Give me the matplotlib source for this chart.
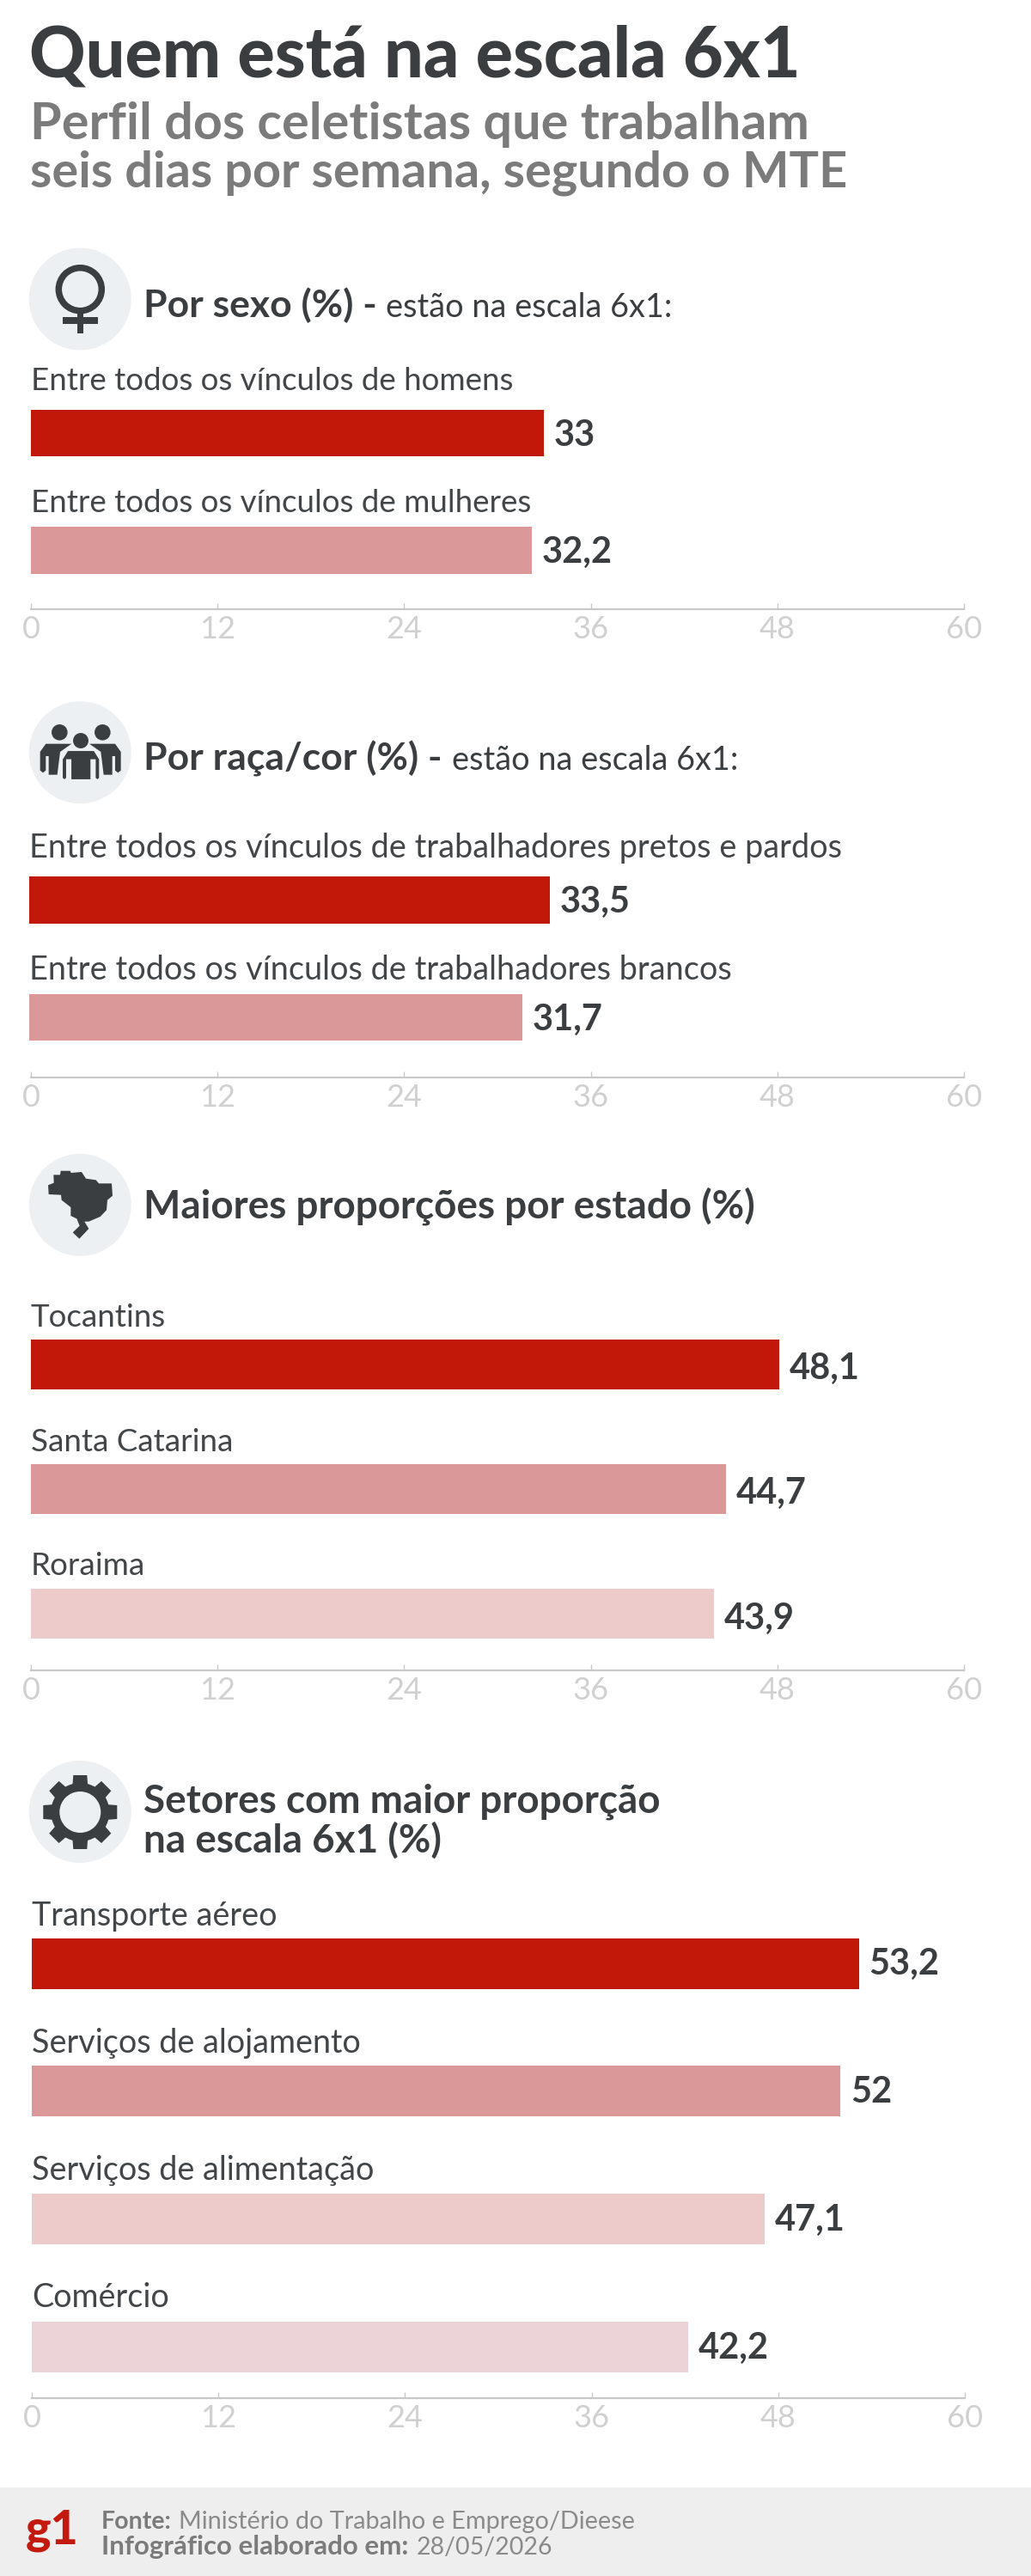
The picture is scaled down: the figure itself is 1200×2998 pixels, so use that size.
import matplotlib
matplotlib.use('Agg')
import matplotlib.pyplot as plt
import numpy as np
from matplotlib.patches import Circle, Polygon, Rectangle, Wedge

W, H = 1200, 2998
DARK = '#3b3e40'
GREY = '#7b7b7b'
TICK = '#c9c9c9'
ICON_BG = '#ecf0f3'
REDS = ['#c2180a', '#da9898', '#eecbcb', '#ecd3d8']
AXIS_TICKS = [0, 12, 24, 36, 48, 60]

sexo_labels = ['Entre todos os vínculos de homens', 'Entre todos os vínculos de mulheres']
sexo_values = [33, 32.2]
raca_labels = ['Entre todos os vínculos de trabalhadores pretos e pardos',
               'Entre todos os vínculos de trabalhadores brancos']
raca_values = [33.5, 31.7]
estado_labels = ['Tocantins', 'Santa Catarina', 'Roraima']
estado_values = [48.1, 44.7, 43.9]
setor_labels = ['Transporte aéreo', 'Serviços de alojamento', 'Serviços de alimentação', 'Comércio']
setor_values = [53.2, 52, 47.1, 42.2]

plt.rcParams['font.family'] = ['Lato', 'DejaVu Sans']

fig = plt.figure(figsize=(W / 100, H / 100), dpi=100, facecolor='white')

# pixel-addressed layer for headings, icons and footer
page = fig.add_axes([0, 0, 1, 1], zorder=5)
page.set_xlim(0, W)
page.set_ylim(H, 0)
page.axis('off')
page.patch.set_alpha(0)


def put(x, y, s, size, weight='normal', color=DARK):
    return page.text(x, y, s, fontsize=size, fontweight=weight, color=color, va='baseline', ha='left')


def px_axes(x0, x1, top, bottom):
    return fig.add_axes([x0 / W, 1 - bottom / H, (x1 - x0) / W, (bottom - top) / H])


def section(labels, values, bar_x, axis_x, first, step, height, axis_y, label_x, label_y, label_step,
            label_size, value_dy):
    scale = 18.1
    ax = px_axes(bar_x, bar_x + 60 * scale, first - step / 2, axis_y)
    ax.set_xlim(0, 60)
    ax.set_ylim((axis_y - first) / step, -0.5)
    ax.axis('off')
    pos = np.arange(len(values))
    ax.barh(pos, values, height=height / step, color=REDS[:len(values)])
    for i, v in zip(pos, values):
        ax.annotate(f'{v:g}'.replace('.', ','), (v, i), xytext=(8.5, value_dy), textcoords='offset points',
                    fontsize=30, fontweight='bold', color=DARK, va='center', ha='left')
        put(label_x, label_y + i * label_step, labels[i], label_size, color='#434648')

    axis = px_axes(axis_x, axis_x + 60 * scale, axis_y - 7, axis_y)
    axis.set_xlim(0, 60)
    axis.set_yticks([])
    axis.patch.set_alpha(0)
    for side in ('top', 'left', 'right'):
        axis.spines[side].set_visible(False)
    axis.spines['bottom'].set_color(TICK)
    axis.spines['bottom'].set_linewidth(1.6)
    axis.set_xticks(AXIS_TICKS)
    axis.tick_params(axis='x', direction='in', length=5, width=1, color=TICK,
                     labelcolor='#d0d0d0', labelsize=26, pad=5)


def badge(cy):
    page.add_patch(Circle((93.3, cy), 59.5, color=ICON_BG, lw=0))


def from_crop(pts, ox, oy):
    return [(ox + px / 3, oy + py / 3) for px, py in pts]


put(34, 89, 'Quem está na escala 6x1', 58.2, weight='black')
put(35, 162, 'Perfil dos celetistas que trabalham', 42.7, weight='bold', color=GREY)
put(35, 217, 'seis dias por semana, segundo o MTE', 41.5, weight='bold', color=GREY)

# headings
put(167, 369, 'Por sexo (%) -', 32, weight='bold')
put(449, 369, 'estão na escala 6x1:', 27.3)
put(167, 896, 'Por raça/cor (%) -', 32, weight='bold')
put(526, 896, 'estão na escala 6x1:', 27.3)
put(167, 1417, 'Maiores proporções por estado (%)', 33, weight='bold')
put(167, 2110, 'Setores com maior proporção', 33, weight='bold')
put(167, 2156, 'na escala 6x1 (%)', 33, weight='bold')

section(sexo_labels, sexo_values, 36, 36, 504, 136.5, 54.5, 709, 36, 454, 142, 26.5, -2)
section(raca_labels, raca_values, 34, 36, 1047.5, 136.5, 54.5, 1254, 34, 998, 142, 27.3, -2)
section(estado_labels, estado_values, 36, 36, 1587.5, 145.25, 58, 1944, 36, 1544, 144.5, 26.5, -4)
section(setor_labels, setor_values, 37, 37, 2285, 148.7, 59, 2791, 37, 2240.5, 148.3, 27.2, -1)

# female symbol
badge(348)
page.add_patch(Circle((93.3, 336.7), 25, fill=False, ec=DARK, lw=5.4))
page.add_patch(Rectangle((73, 369), 41, 8, color=DARK, lw=0))
page.add_patch(Rectangle((90, 363), 7.3, 25, color=DARK, lw=0))

# group of people
badge(875.7)
side_body = [(80, 225), (100, 197), (190, 197), (150, 225), (140, 305), (110, 305), (110, 240), (100, 240),
             (100, 290), (90, 298), (80, 290)]
page.add_patch(Polygon(from_crop(side_body, 20, 800), color=DARK, lw=0))
page.add_patch(Polygon(from_crop([(442 - a, b) for a, b in side_body], 20, 800), color=DARK, lw=0))
for hx, hy in [(148, 157), (298, 157)]:
    page.add_patch(Circle((20 + hx / 3, 800 + hy / 3), 9.3, color=DARK, lw=0))
mid_body = [(155, 250), (175, 218), (270, 218), (290, 250), (290, 318), (280, 326), (270, 318), (270, 255),
            (260, 255), (260, 325), (185, 325), (185, 255), (175, 255), (175, 318), (165, 326), (155, 318)]
page.add_patch(Polygon(from_crop(mid_body, 20, 800), fc=DARK, ec=ICON_BG, lw=2))
page.add_patch(Circle((20 + 222 / 3, 800 + 186 / 3), 10, fc=DARK, ec=ICON_BG, lw=1.5))

# map of Brazil
badge(1402.3)
brasil = [(127, 112), (150, 112), (152, 98), (185, 98), (188, 105), (225, 102), (240, 125), (275, 130), (285, 142),
          (330, 142), (333, 185), (315, 200), (312, 235), (290, 258), (250, 275), (235, 275), (250, 300), (217, 335),
          (194, 313), (218, 290), (208, 265), (187, 255), (187, 225), (155, 200), (153, 182), (110, 180), (108, 148),
          (128, 140)]
page.add_patch(Polygon(from_crop(brasil, 20, 1330), color=DARK, lw=0))

# gear
badge(2108.5)
cx, cy = 93.3, 2109
page.add_patch(Wedge((cx, cy), 34, 0, 360, width=10, color=DARK, lw=0))
for a in np.deg2rad(np.arange(0, 360, 45)):
    u = np.array([np.cos(a), np.sin(a)])
    v = np.array([-u[1], u[0]])
    c = np.array([cx, cy])
    tooth = [c + u * 30 + v * 9, c + u * 43 + v * 8, c + u * 43 - v * 8, c + u * 30 - v * 9]
    page.add_patch(Polygon(tooth, color=DARK, lw=0))

# footer band
page.add_patch(Rectangle((0, 2895), W, H - 2895, color='#eeeeee', lw=0, zorder=0))
page.text(30, 2961, 'g1', fontsize=40, fontweight='black', color='#c4190e', va='baseline', ha='left')
put(118, 2943, 'Fonte:', 20.5, weight='bold', color=GREY)
put(208, 2943, 'Ministério do Trabalho e Emprego/Dieese', 20.8, color='#8a8a8a')
put(118, 2973, 'Infográfico elaborado em:', 22.5, weight='bold', color=GREY)
put(485, 2973, '28/05/2026', 20.5, color='#8a8a8a')

fig.savefig('out.png', dpi=100)
